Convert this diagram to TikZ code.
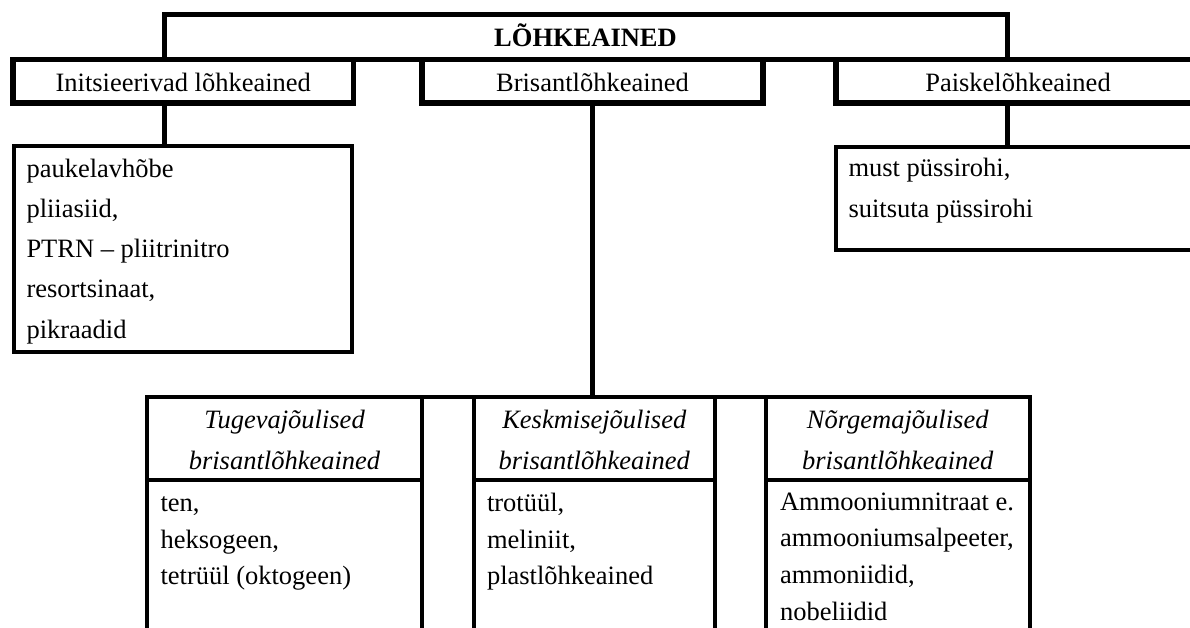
\documentclass[tikz,border=0pt]{standalone}
\usepackage{fontspec}
\setmainfont{Liberation Serif}
\newcommand\cellpar[4]{\parbox[c][#2][t]{#1}{\raggedright\leftskip=#3\hyphenpenalty=10000\relax #4}}
\newcommand\cellctr[3]{\parbox[c][#2][t]{#1}{\centering\hyphenpenalty=10000\relax #3}}
\begin{document}
\begin{tikzpicture}[x=1pt,y=-1pt,
  base/.style={inner sep=0pt, outer sep=0pt, font=\fontsize{26.5pt}{40.3pt}\selectfont},
  topbox/.style={base, draw, line width=5pt, text height=19.4pt, text depth=0pt,
    font=\fontsize{26.5pt}{40.3pt}\selectfont\bfseries},
  catbox/.style={base, draw, line width=5.5pt, minimum height=43.5pt, text height=20.9pt, text depth=0pt},
  listbox/.style={base, draw, line width=4pt, anchor=north west},
  headcell/.style={base, draw, line width=4pt, anchor=north west, font=\fontsize{26.5pt}{41pt}\selectfont\itshape},
  bodycell/.style={base, draw, line width=4pt, anchor=north west, font=\fontsize{26.5pt}{36.7pt}\selectfont},
  conn/.style={line width=5pt},
  tbl/.style={line width=4pt}]
\useasboundingbox (0,0) rectangle (1190,627);
\clip (0,0) rectangle (1190,627);

% category boxes
\node[catbox, minimum width=340.5pt] (A) at (183.25,81.25) {Initsieerivad lõhkeained};
\node[catbox, minimum width=341pt] (B) at (592.5,81.25) {Brisantlõhkeained};
\node[catbox, minimum width=364pt] (C) at (1018,81.25) {Paiskelõhkeained};
% top box
\node[topbox, minimum width=843pt, minimum height=45pt] (T) at (585.5,37) {LÕHKEAINED};

% lists
\node[listbox] (LA) at (14,146) {\cellpar{338pt}{206pt}{12.5pt}{\rule{0pt}{31pt}paukelavhõbe\\ pliiasiid,\\ PTRN – pliitrinitro\\ resortsinaat,\\ pikraadid}};
\node[listbox, font=\fontsize{26.5pt}{40.6pt}\selectfont] (LC) at (836,147) {\cellpar{420pt}{103pt}{12.5pt}{\rule{0pt}{29.7pt}must püssirohi,\\ suitsuta püssirohi}};

% bottom table
\node[headcell] (h1) at (147,396.5) {\cellctr{275pt}{83.5pt}{\rule{0pt}{31.8pt}Tugevajõulised\\ brisantlõhkeained}};
\node[bodycell] (b1) at (147,480) {\cellpar{275pt}{180pt}{13.5pt}{\rule{0pt}{31.5pt}ten,\\ heksogeen,\\ tetrüül (oktogeen)}};
\node[headcell] (h2) at (473.5,396.5) {\cellctr{241.5pt}{83.5pt}{\rule{0pt}{31.8pt}Keskmisejõulised\\ brisantlõhkeained}};
\node[bodycell] (b2) at (473.5,480) {\cellpar{241.5pt}{180pt}{13.5pt}{\rule{0pt}{31.5pt}trotüül,\\ meliniit,\\ plastlõhkeained}};
\node[headcell] (h3) at (766,396.5) {\cellctr{263.5pt}{83.5pt}{\rule{0pt}{31.8pt}Nõrgemajõulised\\ brisantlõhkeained}};
\node[bodycell] (b3) at (766,480) {\cellpar{263.5pt}{180pt}{14pt}{\rule{0pt}{30pt}Ammooniumnitraat e.\\ ammooniumsalpeeter,\\ ammoniidid,\\ nobeliidid}};
\draw[tbl] (h1.north east) -- (h2.north west);
\draw[tbl] (h2.north east) -- (h3.north west);

% connectors
\draw[conn] (A.south -| T.west) -- (LA.north -| T.west);
\draw[conn] (B.south) -- (B.south |- h2.north);
\draw[conn] (C.south -| T.east) -- (LC.north -| T.east);
\end{tikzpicture}
\end{document}
